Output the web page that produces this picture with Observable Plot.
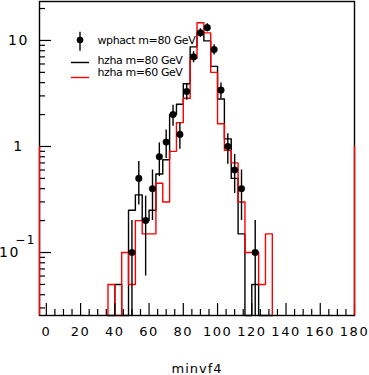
<!DOCTYPE html>
<html><head><meta charset="utf-8">
<script src="https://cdn.jsdelivr.net/npm/d3@7"></script>
<script src="https://cdn.jsdelivr.net/npm/@observablehq/plot@0.6"></script>
<style>
html,body{margin:0;padding:0;background:#fff;}
#chart svg{display:block;}
</style></head><body><div id="chart"></div>
<script>
// ---- data ----
const binWidth = 4;
const binLeft = [36,40,44,48,52,56,60,64,68,72,76,80,84,88,92,96,100,104,108,112,116,120,124,128];
const hzha80  = [0,0.05,0,0.25,0.35,0.2,0.25,0.55,0.75,2.0,2.5,3.9,8.7,12,9.9,5.7,2.8,1.18,0.5,0.15,0,0.05,0,0];
const hzha60  = [0.05,0,0.1,0.05,0.2,0.15,0.15,0.45,0.3,0.9,1.68,2.85,6.8,14.7,11.8,5.0,1.64,0.92,0.7,0.3,0.1,0.1,0.05,0.15];
const wphactX   = [50,54,58,62,66,70,74,78,82,86,90,94,98,102,106,110,114,122];
const wphactY   = [0.1,0.5,0.2,0.4,0.8,1.1,2.0,1.3,3.3,7.0,11.8,13.2,8.2,3.4,1.0,0.6,0.4,0.1];
const wphactErr = [0.10,0.22,0.14,0.20,0.28,0.33,0.45,0.36,0.57,0.84,1.09,1.15,0.91,0.58,0.32,0.24,0.20,0.10];
const redEdgeX = [-4, 180];
const redEdgeTop = 1;
const xDomain = [-4, 180];
const yDomain = [0.02547, 23.3];
const xMajorTicks = [0,20,40,60,80,100,120,140,160,180];
const xMinorTicks = [5,10,15,25,30,35,45,50,55,65,70,75,85,90,95,105,110,115,125,130,135,145,150,155,165,170,175];
const yMajorTicks = [0.1, 1, 10];
const yMinorTicks = [0.03,0.04,0.05,0.06,0.07,0.08,0.09,0.2,0.3,0.4,0.5,0.6,0.7,0.8,0.9,2,3,4,5,6,7,8,9,20];
const xTitle = "minvf4";
const legendLabels = ["wphact m=80 GeV", "hzha m=80 GeV", "hzha m=60 GeV"];

// ---- build tables ----
const floor = yDomain[0];
function steps(vals) {
  const pts = [{x: binLeft[0], y: floor}];
  vals.forEach((v, i) => pts.push({x: binLeft[i], y: v > 0 ? v : floor}));
  pts.push({x: binLeft[binLeft.length - 1] + binWidth, y: floor});
  return pts;
}
const pts = wphactX.map((x, i) => ({x, y: wphactY[i], lo: Math.max(wphactY[i] - wphactErr[i], floor), hi: wphactY[i] + wphactErr[i]}));

const W = 369, H = 375, ML = 39, MR = 15, MT = 1, MB = 60;
const FW = W - ML - MR, FH = H - MT - MB;
const font = "'DejaVu Sans', sans-serif";
const plot = Plot.plot({
  width: W, height: H,
  marginLeft: ML, marginRight: MR, marginTop: MT, marginBottom: MB,
  style: {fontFamily: font, background: "white"},
  x: {domain: xDomain, axis: null},
  y: {type: "log", domain: yDomain, axis: null, clamp: true},
  marks: [
    Plot.line(steps(hzha80), {x: "x", y: "y", curve: "step-after", stroke: "black", strokeWidth: 1.4}),
    Plot.line(steps(hzha60), {x: "x", y: "y", curve: "step-after", stroke: "#ff0000", strokeWidth: 1.4}),
    Plot.ruleX(pts, {x: "x", y1: "lo", y2: "hi", stroke: "black", strokeWidth: 1.4}),
    Plot.dot(pts, {x: "x", y: "y", r: 3.3, fill: "black", stroke: "black", strokeWidth: 0.5}),
    Plot.tickX(xMajorTicks, {x: d => d, insetTop: FH - 12, stroke: "black", strokeWidth: 1.2}),
    Plot.tickX(xMinorTicks, {x: d => d, insetTop: FH - 6, stroke: "black", strokeWidth: 1.2}),
    Plot.tickY(yMajorTicks, {y: d => d, insetRight: FW - 12, stroke: "black", strokeWidth: 1.2}),
    Plot.tickY(yMinorTicks, {y: d => d, insetRight: FW - 6, stroke: "black", strokeWidth: 1.2}),
    Plot.frame({stroke: "black", strokeWidth: 1.4}),
    Plot.ruleX(redEdgeX, {x: d => d, y1: redEdgeTop, y2: floor, stroke: "#ff0000", strokeWidth: 1.4}),
    Plot.text(xMajorTicks, {x: d => d, frameAnchor: "bottom", dy: 20, text: d => String(d), fontSize: 13, fill: "black", textAnchor: "middle"}),
    Plot.text([10, 1], {y: d => d, frameAnchor: "left", dx: -21, text: d => String(d), fontSize: 14, fill: "black", textAnchor: "middle"}),
    Plot.text([0.1], {y: d => d, frameAnchor: "left", dx: -30, text: ["10"], fontSize: 14, fill: "black", textAnchor: "middle"}),
    Plot.text([0.1], {y: d => d, frameAnchor: "left", dx: -14, dy: -12, text: ["\u22121"], fontSize: 12, fill: "black", textAnchor: "middle"})
  ]
});

const svg = d3.select(plot);
svg.selectAll("text").attr("letter-spacing", 1.5);

// x title
svg.append("text").attr("x", 197).attr("y", 373).attr("text-anchor", "middle")
  .attr("font-size", 13).attr("font-family", font).attr("letter-spacing", 1).attr("fill", "black").text(xTitle);

// legend
const lg = svg.append("g").attr("font-family", font).attr("font-size", 11).attr("text-anchor", "start");
lg.append("line").attr("x1", 80).attr("x2", 80).attr("y1", 31.7).attr("y2", 50.7).attr("stroke", "black").attr("stroke-width", 1.4);
lg.append("circle").attr("cx", 80).attr("cy", 40).attr("r", 3.3).attr("fill", "black");
lg.append("line").attr("x1", 71).attr("x2", 89).attr("y1", 62.5).attr("y2", 62.5).attr("stroke", "black").attr("stroke-width", 1.4);
lg.append("line").attr("x1", 71).attr("x2", 89).attr("y1", 77.5).attr("y2", 77.5).attr("stroke", "#ff0000").attr("stroke-width", 1.4);
[[44, 0], [64, 1], [76, 2]].forEach(([y, i]) => {
  lg.append("text").attr("x", 97.5).attr("y", y).attr("fill", "black").attr("text-anchor", "start")
    .attr("letter-spacing", -0.4).text(legendLabels[i]);
});

document.getElementById("chart").appendChild(plot);
</script>
</body></html>
